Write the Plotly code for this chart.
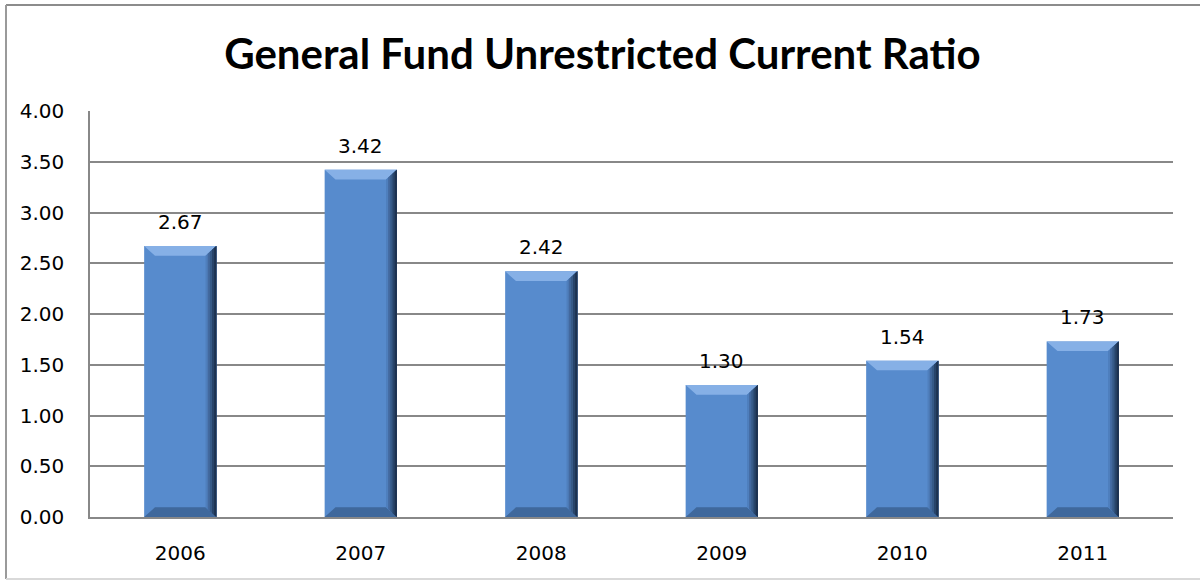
import plotly.graph_objects as go

# Chart data
years = ["2006", "2007", "2008", "2009", "2010", "2011"]
ratios = [2.67, 3.42, 2.42, 1.30, 1.54, 1.73]
y_ticks = [0.0, 0.5, 1.0, 1.5, 2.0, 2.5, 3.0, 3.5, 4.0]

idx = list(range(len(years)))

FACE = "#578bcd"
TOP_BEVEL = "#86b0e6"
BOTTOM_BEVEL = "#3f689c"
EDGE_STEPS = ["#4f7fbd", "#43699f", "#365a87", "#28456a", "#1d3250"]

HALF_W = 0.2      # half bar width, category units
BEV_X = 0.06      # bevel depth in x (category units)
BEV_Y = 0.095     # bevel depth in y (value units)
LABEL_FONT = dict(family="DejaVu Sans", size=20, color="#000000")

fig = go.Figure()

# bar body
fig.add_trace(go.Bar(
    x=idx, y=ratios, width=2 * HALF_W,
    marker=dict(color=FACE, line=dict(width=0)),
    hoverinfo="x+y", showlegend=False,
))


def polys(builder):
    xs, ys = [], []
    for i, v in zip(idx, ratios):
        px, py = builder(i, v)
        xs += px + [px[0], None]
        ys += py + [py[0], None]
    return xs, ys


def add_poly(builder, color):
    xs, ys = polys(builder)
    fig.add_trace(go.Scatter(
        x=xs, y=ys, mode="lines", fill="toself", fillcolor=color,
        line=dict(width=0, color=color), hoverinfo="skip", showlegend=False,
    ))


# top bevel
add_poly(lambda i, v: (
    [i - HALF_W, i + HALF_W, i + HALF_W - BEV_X, i - HALF_W + BEV_X],
    [v, v, v - BEV_Y, v - BEV_Y]), TOP_BEVEL)

# bottom bevel
add_poly(lambda i, v: (
    [i - HALF_W, i + HALF_W, i + HALF_W - BEV_X, i - HALF_W + BEV_X],
    [0, 0, BEV_Y, BEV_Y]), BOTTOM_BEVEL)

# right edge shading, stepped to fake a gradient
n = len(EDGE_STEPS)
for k, col in enumerate(EDGE_STEPS):
    f = 1 - k / n
    add_poly(lambda i, v, f=f: (
        [i + HALF_W - BEV_X * f, i + HALF_W, i + HALF_W, i + HALF_W - BEV_X * f],
        [v - BEV_Y * f, v, 0, BEV_Y * f]), col)

# value labels
for i, v in zip(idx, ratios):
    fig.add_annotation(
        x=i, y=v, text=f"{v:.2f}", showarrow=False,
        yanchor="middle", yshift=24, font=LABEL_FONT,
    )

# outer frame
L, R, T, B = 90, 1173, 111, 517
def px_x(p):
    return (p - L) / (R - L)
def px_y(p):
    return (B - p) / (B - T)

frame = dict(xref="paper", yref="paper", type="line", layer="above")
fig.add_shape(**frame, x0=px_x(6), x1=px_x(1210), y0=px_y(5), y1=px_y(5),
              line=dict(color="#8c8c8c", width=2))
fig.add_shape(**frame, x0=px_x(6), x1=px_x(6), y0=px_y(5), y1=px_y(579),
              line=dict(color="#9a9a9a", width=2))
fig.add_shape(**frame, x0=px_x(6), x1=px_x(1210), y0=px_y(579), y1=px_y(579),
              line=dict(color="#d9d9d9", width=2))

fig.update_layout(
    width=1200, height=581,
    margin=dict(l=L, r=1200 - R, t=T, b=581 - B),
    paper_bgcolor="#ffffff", plot_bgcolor="#ffffff",
    barmode="overlay",
    title=dict(
        text="<b>General Fund Unrestricted Current Ratio</b>",
        x=0.502, xref="container", xanchor="center",
        y=1 - 54 / 581, yref="container", yanchor="middle",
        font=dict(family="Lato", size=42, color="#000000"),
    ),
    xaxis=dict(
        range=[-0.5, 5.5], tickvals=idx, ticktext=years,
        showgrid=False, zeroline=False,
        showline=True, linecolor="#888888", linewidth=1.5,
        ticks="", ticklabelstandoff=17,
        tickfont=LABEL_FONT, fixedrange=True,
    ),
    yaxis=dict(
        range=[0, 4], tickvals=y_ticks, tickformat=".2f",
        showgrid=True, gridcolor="#888888", gridwidth=1.5,
        zeroline=False,
        showline=True, linecolor="#888888", linewidth=1.5,
        ticks="", ticklabelstandoff=20,
        tickfont=LABEL_FONT, fixedrange=True,
    ),
)

fig.write_html("out.html")
